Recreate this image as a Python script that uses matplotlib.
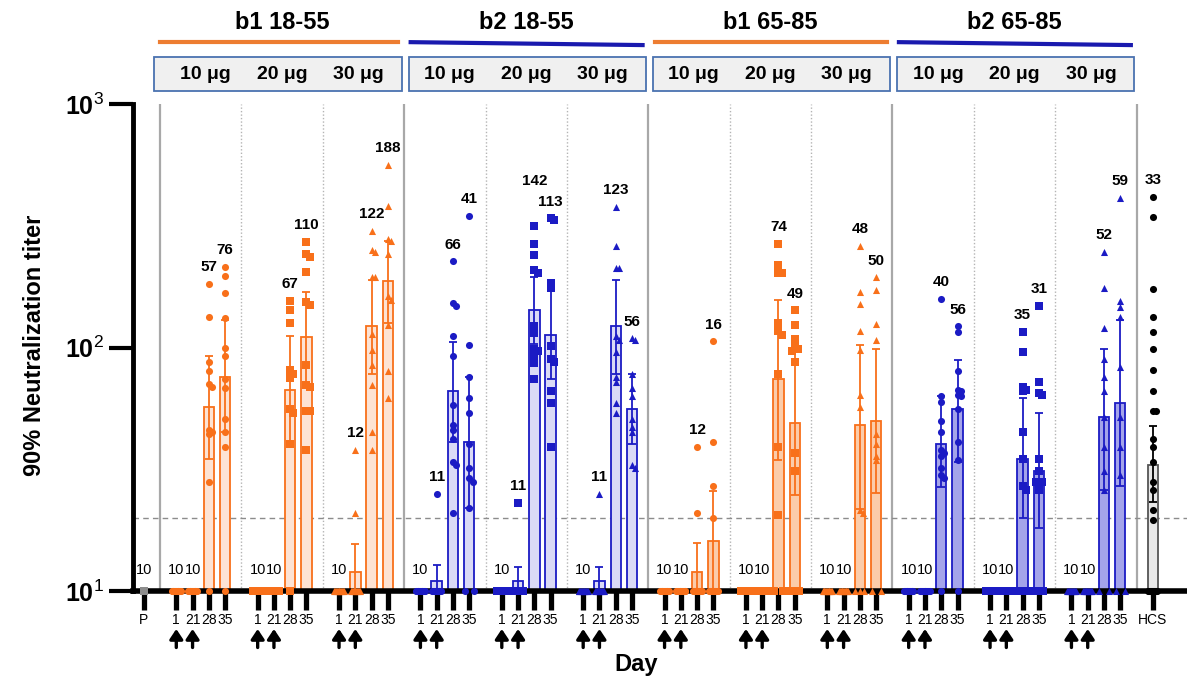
import matplotlib
matplotlib.use("Agg")
import matplotlib.pyplot as plt
import matplotlib.transforms as mtransforms
from matplotlib import font_manager as fm
from matplotlib.patches import Rectangle
from matplotlib.lines import Line2D
import numpy as np

# fonts: Arial-like, narrow version for the crowded numbers if we have it
names = {f.name for f in fm.fontManager.ttflist}
HAVE_NARROW = "Liberation Sans Narrow" in names
NARROW = "Liberation Sans Narrow" if HAVE_NARROW else "Liberation Sans"
plt.rcParams["font.family"] = ["Liberation Sans", "DejaVu Sans"]
plt.rcParams["mathtext.fontset"] = "custom"
plt.rcParams["mathtext.rm"] = "Liberation Sans"
plt.rcParams["mathtext.bf"] = "Liberation Sans:bold"

# ---- data ----
group_titles = ["b1 18-55", "b2 18-55", "b1 65-85", "b2 65-85"]
doses = ["10 μg", "20 μg", "30 μg"]
days = ["1", "21", "28", "35"]

# geometric mean titres (bar heights / labels), one row per dose group
gmt = [
    [10, 10, 57, 76],
    [10, 10, 67, 110],
    [10, 12, 122, 188],
    [10, 11, 66, 41],
    [10, 11, 142, 113],
    [10, 11, 123, 56],
    [10, 10, 12, 16],
    [10, 10, 74, 49],
    [10, 10, 48, 50],
    [10, 10, 40, 56],
    [10, 10, 35, 31],
    [10, 10, 52, 59],
]

# 95% CI (low, high) per day, None where there is no bar
ci = [
    [None, None, (35, 92), (45, 130)],
    [None, None, (40, 111), (72, 169)],
    [None, (9.2, 15.6), (78, 189), (126, 275)],
    [None, (9.5, 12.8), (41, 105), (22, 76)],
    [None, (9.5, 12.5), (103, 195), (74, 181)],
    [None, (9.5, 12.6), (78, 190), (40, 78)],
    [None, None, (9.0, 15.7), (9.5, 25.8)],
    [None, None, (34.5, 157), (24.8, 99)],
    [None, None, (21.8, 102), (25.2, 99)],
    [None, None, (26.7, 63), (34, 89)],
    [None, None, (20, 62), (18.1, 53.7)],
    [None, None, (26, 99), (27, 130)],
]

LOD12 = [10, 10, 10, 10, 10, 10, 10, 10, 10, 10, 10, 10]

# individual titres per dose group: day 1, day 21, day 28, day 35
b1_young_10 = [LOD12, LOD12,
               [183, 133, 87, 80, 71, 69, 46, 45, 44, 28, 10],
               [215, 197, 168, 132, 100, 92, 74, 68, 51, 45, 39, 10]]
b1_young_20 = [LOD12, LOD12,
               [155, 142, 126, 81, 78, 75, 56, 54, 40, 10],
               [272, 242, 236, 204, 154, 150, 85, 70, 69, 55, 55, 38]]
b1_young_30 = [LOD12,
               [38, 21, 10, 10, 10, 10, 10, 10, 10, 10, 10, 10],
               [301, 251, 246, 195, 195, 114, 98, 85, 70, 45, 38],
               [562, 381, 278, 275, 243, 162, 157, 124, 80, 62]]
b2_young_10 = [LOD12,
               [25, 10, 10, 10, 10, 10, 10, 10, 10, 10, 10, 10],
               [226, 152, 148, 111, 92, 58, 48, 46, 42, 34, 33, 21],
               [347, 102, 76, 62, 54, 40, 32, 29, 28, 22, 10, 10]]
b2_young_20 = [LOD12,
               [23, 10, 10, 10, 10, 10, 10, 10, 10, 10, 10, 10],
               [316, 266, 240, 208, 202, 122, 115, 99, 97, 92, 86, 74],
               [339, 335, 184, 175, 101, 90, 87, 66, 59, 39]]
b2_young_30 = [LOD12,
               [25, 10, 10, 10, 10, 10, 10, 10, 10, 10, 10, 10],
               [379, 262, 213, 213, 111, 107, 96, 76, 72, 59, 54],
               [109, 107, 78, 68, 63, 51, 47, 45, 33, 32]]
b1_old_10 = [LOD12, LOD12,
             [39, 21, 10, 10, 10, 10, 10, 10, 10, 10, 10, 10],
             [106, 41, 27, 20, 10, 10, 10, 10, 10, 10, 10, 10]]
b1_old_20 = [LOD12, LOD12,
             [266, 218, 203, 203, 126, 117, 113, 78, 39, 20.5, 10, 10],
             [142, 124, 108, 101, 99, 97, 87, 37, 31, 10, 10, 10]]
b1_old_30 = [LOD12, LOD12,
             [262, 169, 151, 117, 98, 64, 57, 21.5, 21, 10, 10, 10],
             [194, 172, 125, 107, 44, 40, 36, 34.5, 10, 10]]
b2_old_10 = [LOD12, LOD12,
             [158, 63, 60, 50, 45, 38, 37, 36, 32, 30, 29, 10],
             [122, 116, 80, 67, 66, 64, 63, 56, 41, 34.5, 10]]
b2_old_20 = [LOD12, LOD12,
             [116, 96, 69, 67, 66, 45, 35, 27, 26, 10, 10, 10],
             [148, 72, 65, 64, 35, 31, 28, 28, 28, 26, 10, 10, 10]]
b2_old_30 = [LOD12, LOD12,
             [247, 176, 120, 90, 76, 66, 52, 39, 31, 26, 10, 10],
             [412, 155, 147, 134, 83, 52, 39, 30, 10, 10]]

points = [b1_young_10, b1_young_20, b1_young_30,
          b2_young_10, b2_young_20, b2_young_30,
          b1_old_10, b1_old_20, b1_old_30,
          b2_old_10, b2_old_20, b2_old_30]

placebo = [10]
hcs = [416, 344, 174, 134, 116, 99, 81, 66, 55, 55, 42, 39, 34, 28, 26, 21.5, 19.6,
       10, 10, 10, 10, 10, 10, 10, 10, 10, 10]
hcs_gmt = 33
hcs_ci = (23.3, 47.8)

# ---- styling ----
ORANGE = "#F8701A"
BLUE = "#1B1BC4"
fills = ["#FDE3D4", "#DADAF6", "#FBCCAA", "#A4A4EA"]
series_col = [ORANGE, BLUE, ORANGE, BLUE]
markers = ["o", "s", "^"]
label_lift = {(4, 2): 20}   # a few labels sit higher in the original


def spread(vals):
    # simple beeswarm so equal titres sit side by side
    offs = [0.0] * len(vals)
    lod = [i for i, v in enumerate(vals) if v <= 10]
    if len(lod) > 1:
        for j, i in enumerate(lod):
            offs[i] = -0.28 + 0.56 * j / (len(lod) - 1)
    placed = []
    rest = sorted([i for i, v in enumerate(vals) if v > 10], key=lambda i: -vals[i])
    for i in rest:
        ly = np.log10(vals[i])
        for cand in (0.0, 0.2, -0.2, 0.4, -0.4):
            if all(abs(cand - px) > 0.18 or abs(ly - py) > 0.018 for px, py in placed):
                break
        placed.append((cand, ly))
        offs[i] = cand
    return np.array(offs)


def label(ax, x, top, text, lod=False, lift=0):
    ax.annotate(text, (x, top), xytext=(0, (15 if lod else 12) + lift), textcoords="offset points",
                ha="center", va="center", fontsize=10.5 if lod else 11,
                family=[NARROW, "DejaVu Sans"],
                fontweight="normal" if lod else "bold", zorder=6)


fig = plt.figure(figsize=(11.87, 6.83), dpi=100)
ax = fig.add_axes([133 / 1187, 92 / 683, 1054 / 1187, 487 / 683])
ax.set_yscale("log")
ax.set_ylim(10, 1000)
ax.set_xlim(-0.66, 64.1)

# separators
for x in [1, 16, 31, 46, 61]:
    ax.axvline(x, color="#a8a8a8", lw=1.6, zorder=1)
for x in [6, 11, 21, 26, 36, 41, 51, 56]:
    ax.axvline(x, color="#b4b4b4", lw=1.0, ls=(0, (1, 1.5)), zorder=1)
ax.axhline(20, color="#8c8c8c", lw=1.0, ls=(0, (4, 3)), zorder=1)

xt, xl = [0], ["P"]
for g in range(12):
    m = g // 3
    col = series_col[m]
    for k in range(4):
        x = 2 + 5 * g + k
        xt.append(x)
        xl.append(days[k])
        v = gmt[g][k]
        if v > 10:
            ax.bar(x, v - 10, bottom=10, width=0.64, color=fills[m], edgecolor=col,
                   lw=1.3, zorder=2)
        if ci[g][k] is not None:
            lo, hi = ci[g][k]
            ax.errorbar(x, v, yerr=[[v - lo], [hi - v]], fmt="none", ecolor=col,
                        elinewidth=1.3, capsize=3, capthick=1.3, zorder=3)
        vals = points[g][k]
        ax.scatter(x + spread(vals), vals, marker=markers[g % 3], s=26, color=col,
                   linewidths=0, zorder=5, clip_on=False)
        label(ax, x, max(vals), str(v), lod=max(vals) <= 10, lift=label_lift.get((g, k), 0))

# placebo
ax.scatter([0], placebo, marker="s", s=40, color="#8c8c8c", linewidths=0, zorder=5, clip_on=False)
label(ax, 0, max(placebo), "10", lod=True)

# convalescent sera
ax.bar(62, hcs_gmt - 10, bottom=10, width=0.64, color="#e8e8e8", edgecolor="#555555", lw=1.3, zorder=2)
ax.errorbar(62, hcs_gmt, yerr=[[hcs_gmt - hcs_ci[0]], [hcs_ci[1] - hcs_gmt]], fmt="none",
            ecolor="black", elinewidth=1.3, capsize=3, capthick=1.3, zorder=3)
ax.scatter(62 + spread(hcs), hcs, marker="o", s=26, color="black", linewidths=0, zorder=5, clip_on=False)
label(ax, 62, max(hcs), str(hcs_gmt))
xt.append(62)
xl.append("HCS")

# axes cosmetics
for s in ["top", "right"]:
    ax.spines[s].set_visible(False)
ax.spines["left"].set_linewidth(3.5)
ax.spines["bottom"].set_linewidth(4)
ax.set_yticks([10, 100, 1000])
ax.set_yticklabels([r"$\mathbf{10}^{1}$", r"$\mathbf{10}^{2}$", r"$\mathbf{10}^{3}$"], fontsize=18)
ax.yaxis.set_minor_locator(matplotlib.ticker.NullLocator())
ax.tick_params(axis="y", length=17, width=3, pad=4)
ax.set_xticks(xt)
ax.set_xticklabels(xl, fontsize=11 if HAVE_NARROW else 10, family=[NARROW, "DejaVu Sans"])
ax.tick_params(axis="x", length=14, width=3.8, pad=1.5)

trans = mtransforms.blended_transform_factory(ax.transData, ax.transAxes)

# booster arrows under day 1 and day 21
for g in range(12):
    for k in (0, 1):
        x = 2 + 5 * g + k
        ax.annotate("", xy=(x, -0.078), xytext=(x, -0.116), xycoords=trans, textcoords=trans,
                    arrowprops=dict(arrowstyle="-|>,head_width=0.28,head_length=0.42",
                                    lw=2.4, color="black", shrinkA=0, shrinkB=0,
                                    mutation_scale=14), annotation_clip=False)

# header: titles, coloured rules, dose boxes
line_cols = ["#ED7D31", "#1A1AAE", "#ED7D31", "#1A1AAE"]
for m in range(4):
    base = 15 * m
    ax.text(base + 8.5, 1.168, group_titles[m], transform=trans, ha="center", va="center",
            fontsize=17, fontweight="bold")
    x0 = base + (1.0 if m == 0 else 1.4)
    y1 = 1.127 if m % 2 == 0 else 1.121
    ax.add_line(Line2D([x0, base + 15.65], [1.127, y1], transform=trans, color=line_cols[m],
                       lw=3, clip_on=False))
    bx = base + (0.6 if m == 0 else 1.3)
    ax.add_patch(Rectangle((bx, 1.0267), base + 15.85 - bx, 0.0698, transform=trans,
                           facecolor="#f0f0f0", edgecolor="#4a72b0", lw=1.3, clip_on=False))
    for k in range(3):
        ax.text(base + 3.8 + 4.7 * k, 1.0616, doses[k], transform=trans, ha="center",
                va="center", fontsize=14, fontweight="bold")

fig.text(35 / 1187, 1 - 345 / 683, "90% Neutralization titer", rotation=90, ha="center",
         va="center", fontsize=17, fontweight="bold")
fig.text(636 / 1187, 1 - 665 / 683, "Day", ha="center", va="center", fontsize=17, fontweight="bold")

fig.savefig("out.png", dpi=100)
